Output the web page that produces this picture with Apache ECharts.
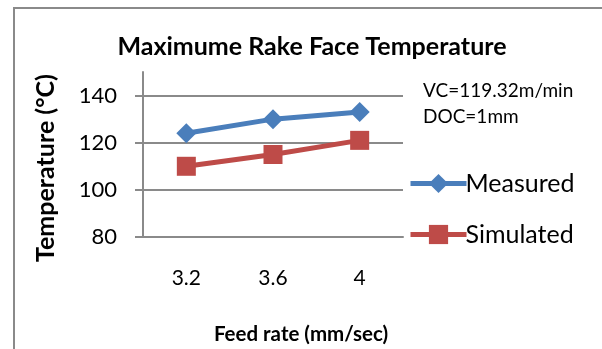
<!DOCTYPE html>
<html>
<head>
<meta charset="utf-8">
<script src="https://cdn.jsdelivr.net/npm/echarts@6/dist/echarts.min.js"></script>
<style>
  html, body { margin: 0; padding: 0; background: #fff; }
  #chart { width: 602px; height: 349px; }
</style>
</head>
<body>
<div id="chart"></div>
<script>
// Feed rate categories (mm/sec)
const feedRates = ['3.2', '3.6', '4'];
// Maximum rake face temperature (°C)
const measured = [124, 130, 133];
const simulated = [110, 115, 121];
// Temperature axis ticks
const tempTicks = [80, 100, 120, 140];

const FONT = 'Lato';
const GRAY = '#8a8a8a';

const chart = echarts.init(document.getElementById('chart'), null, { renderer: 'canvas' });

chart.setOption({
  backgroundColor: '#ffffff',
  animation: false,
  title: [
    {
      text: 'Maximume Rake Face Temperature',
      left: 307, top: 29, textAlign: 'center',
      textStyle: { fontFamily: FONT, fontWeight: 'bold', fontSize: 25, color: '#000' }
    },
    {
      text: 'Feed rate (mm/sec)',
      left: 296, top: 319, textAlign: 'center',
      textStyle: { fontFamily: FONT, fontWeight: 'bold', fontSize: 20.5, color: '#000' }
    }
  ],
  graphic: [
    {
      type: 'rect', silent: true, z: -1,
      shape: { x: 14, y: 8, width: 620, height: 400 },
      style: { fill: 'none', stroke: GRAY, lineWidth: 2 }
    },
    {
      type: 'text', x: 46, y: 168, rotation: Math.PI / 2,
      style: {
        text: 'Temperature (°C)', align: 'center', verticalAlign: 'middle',
        font: 'bold 25px ' + FONT, fill: '#000'
      }
    },
    {
      type: 'text', x: 423, y: 78,
      style: {
        text: 'VC=119.32m/min\nDOC=1mm', lineHeight: 26,
        font: '19px ' + FONT, fill: '#000'
      }
    }
  ],
  legend: {
    orient: 'vertical',
    left: 408, top: 171, padding: 0,
    itemWidth: 56, itemHeight: 24, itemGap: 26,
    lineStyle: { width: 5 },
    textStyle: { fontFamily: FONT, fontSize: 25, color: '#000', padding: [0, 0, 0, -6] },
    data: ['Measured', 'Simulated']
  },
  grid: { left: 143, right: 199, top: 72, bottom: 112, containLabel: false },
  xAxis: {
    type: 'category',
    data: feedRates,
    boundaryGap: true,
    axisLine: { lineStyle: { color: GRAY, width: 2 } },
    axisTick: { show: false },
    axisLabel: { margin: 31, fontFamily: FONT, fontSize: 21, color: '#000' },
    splitLine: { show: false }
  },
  yAxis: {
    type: 'value',
    min: 80, max: 150, interval: 20,
    axisLine: { show: true, lineStyle: { color: GRAY, width: 2 } },
    axisTick: { show: true, inside: false, length: 8, customValues: tempTicks, lineStyle: { color: GRAY, width: 2 } },
    axisLabel: {
      margin: 26, fontFamily: FONT, fontSize: 22, color: '#000',
      customValues: tempTicks
    },
    splitLine: { show: true, lineStyle: { color: GRAY, width: 2 } }
  },
  series: [
    {
      name: 'Measured', type: 'line', data: measured,
      symbol: 'diamond', symbolSize: 20,
      lineStyle: { color: '#4a7ebb', width: 5 },
      itemStyle: { color: '#4a7ebb' },
      z: 3
    },
    {
      name: 'Simulated', type: 'line', data: simulated,
      symbol: 'rect', symbolSize: 19,
      lineStyle: { color: '#be4b48', width: 5 },
      itemStyle: { color: '#be4b48' },
      z: 2
    }
  ]
});
</script>
</body>
</html>
